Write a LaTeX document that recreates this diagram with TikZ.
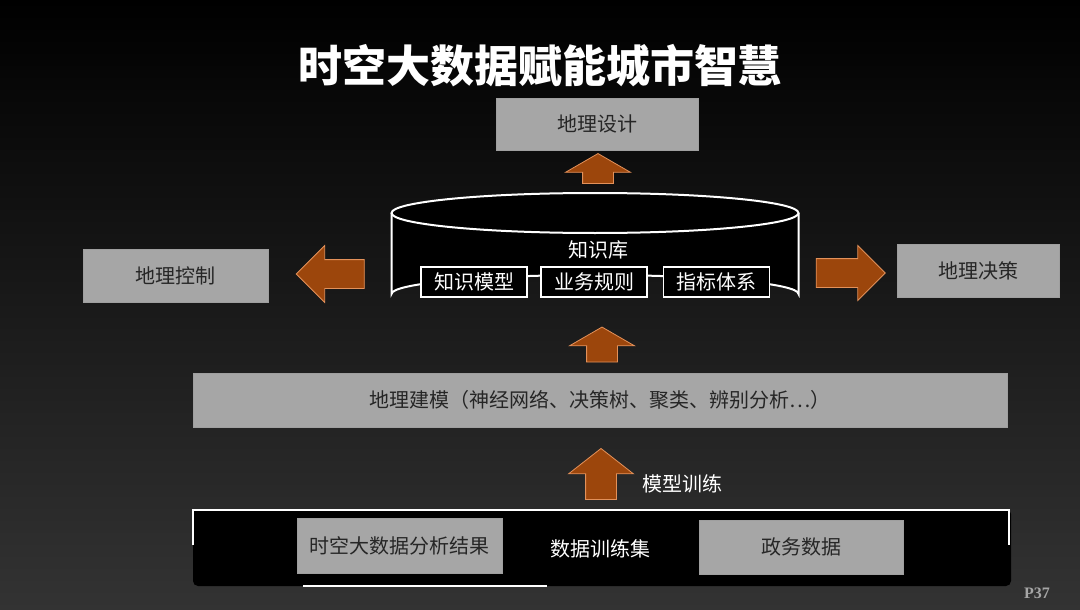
\documentclass[tikz,border=0pt]{standalone}
\usepackage{fontspec}
\setmainfont{Noto Sans CJK SC}
\newfontfamily\pfont{Liberation Serif}
\usetikzlibrary{shapes.arrows,positioning}
\definecolor{boxgray}{HTML}{A6A6A6}
\definecolor{arrowfill}{HTML}{9C460C}
\definecolor{arrowline}{HTML}{E3915A}

\begin{document}
\begin{tikzpicture}[x=1pt,y=-1pt,
	box/.style = {draw=gray!75, fill=boxgray, text=black!85, inner sep=0, font=\fontsize{20}{22}\selectfont},
	kbox/.style = {draw=white, line width=1.2pt, fill=black, text=white, inner sep=0, minimum width=106, minimum height=30, font=\fontsize{20}{22}\selectfont},
	lbl/.style = {text=white, inner sep=0, font=\fontsize{20}{22}\selectfont},
	arw/.style = {single arrow, draw=arrowline, fill=arrowfill, line width=0.8pt, inner xsep=0, inner ysep=14, minimum width=55, single arrow head extend=14, single arrow tip angle=90},
	uparw/.style = {arw, shape border rotate=90, inner xsep=15, inner ysep=0, minimum width=64, single arrow head extend=17, single arrow tip angle=120}]
	\useasboundingbox (0,0) rectangle (1080,610);
	\shade[top color=black, bottom color=black!80!white] (0,0) rectangle (1080,610);
	% title
	\node[text=white, font=\fontsize{44}{48}\selectfont\bfseries] (title) at (540,66) {时空大数据赋能城市智慧};
	% top
	\node[box, minimum width=202, minimum height=52] (design) at (597,124) {地理设计};
	\node[uparw, minimum height=30] (up1) at (598,173) {};
	% knowledge base
	\draw[white, line width=2pt, fill=black] (391.5,213) -- (391.5,294) arc[start angle=180, end angle=360, x radius=203.5, y radius=19] -- (798.5,213);
	\draw[white, line width=2pt, fill=black] (595,213) ellipse[x radius=203.5, y radius=20];
	\node[lbl] (kb) at (598,250) {知识库};
	\node[kbox] (model) at (474,282) {知识模型};
	\node[kbox] (rule) at (594,282) {业务规则};
	\node[kbox] (index) at (716.5,282) {指标体系};
	% left / right
	\node[arw, shape border rotate=180, minimum height=68] (left) at (337.5,274) {};
	\node[box, minimum width=185, minimum height=53] (control) at (175.5,275.5) {地理控制};
	\node[arw, minimum height=69, minimum width=53, inner ysep=14, single arrow head extend=13] (right) at (843.5,273) {};
	\node[box, minimum width=162, minimum height=53] (decision) at (978,270.5) {地理决策};
	% modelling
	\node[uparw, minimum height=35] (up2) at (602,349) {};
	\node[box, minimum width=814, minimum height=54] (modelling) at (600,400) {地理建模（神经网络、决策树、聚类、辨别分析…）};
	\node[uparw, minimum height=51, single arrow tip angle=104] (up3) at (601,480) {};
	\node[lbl] (train) at (682,484) {模型训练};
	% training set
	\fill[black, rounded corners=5] (193,509) rectangle (1011,586);
	\draw[white, line width=2.5pt] (193,545) -- (193,510) -- (1009,510) -- (1009,545);
	\draw[white, line width=2.5pt] (303,586) -- (547,586);
	\node[box, minimum width=205, minimum height=55] (result) at (399.5,545.5) {时空大数据分析结果};
	\node[lbl] (trainset) at (600,549) {数据训练集};
	\node[box, minimum width=204, minimum height=54] (gov) at (801,547) {政务数据};
	\node[text=gray!70, font=\pfont\fontsize{16}{18}\selectfont\bfseries] (page) at (1037,593) {P37};
\end{tikzpicture}
\end{document}
